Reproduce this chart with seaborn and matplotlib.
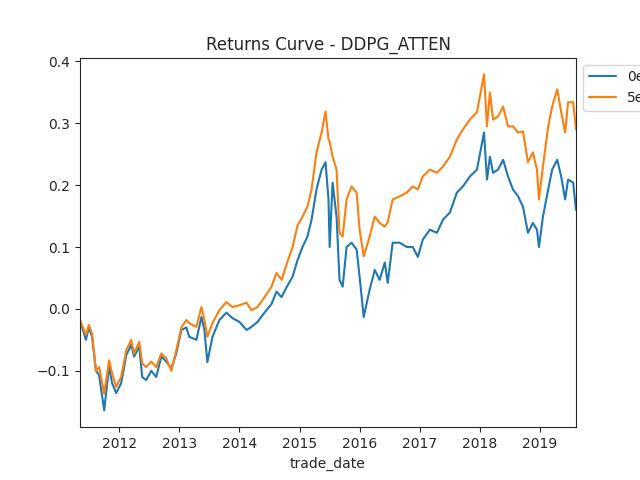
import numpy as np
import pandas as pd
import matplotlib
matplotlib.use("Agg")
import matplotlib.pyplot as plt
import matplotlib.dates as mdates
import seaborn as sns

# values
trade_date = [
    "2011-05-08", "2011-06-13", "2011-07-01", "2011-07-20", "2011-08-13", "2011-09-01",
    "2011-10-02", "2011-11-01", "2011-11-19", "2011-12-14", "2012-01-13", "2012-02-13",
    "2012-03-14", "2012-04-01", "2012-05-02", "2012-05-20", "2012-06-13", "2012-07-14",
    "2012-08-13", "2012-09-13", "2012-10-13", "2012-11-13", "2012-12-13", "2013-01-13",
    "2013-02-12", "2013-03-02", "2013-04-14", "2013-05-15", "2013-06-02", "2013-06-20",
    "2013-07-21", "2013-09-01", "2013-10-14", "2013-11-20", "2014-01-01", "2014-02-13",
    "2014-03-15", "2014-04-21", "2014-06-02", "2014-07-15", "2014-08-14", "2014-09-14",
    "2014-10-14", "2014-11-20", "2014-12-20", "2015-01-19", "2015-02-18", "2015-03-15",
    "2015-04-14", "2015-05-15", "2015-06-08", "2015-06-26", "2015-07-03", "2015-07-21",
    "2015-08-14", "2015-09-01", "2015-09-20", "2015-10-14", "2015-11-13", "2015-12-14",
    "2016-01-01", "2016-01-26", "2016-03-02", "2016-04-02", "2016-05-02", "2016-06-02",
    "2016-06-20", "2016-07-20", "2016-09-01", "2016-10-14", "2016-11-19", "2016-12-20",
    "2017-01-19", "2017-03-03", "2017-04-15", "2017-05-21", "2017-07-03", "2017-08-14",
    "2017-09-20", "2017-11-01", "2017-12-14", "2018-01-26", "2018-02-13", "2018-03-03",
    "2018-03-22", "2018-04-21", "2018-05-22", "2018-06-21", "2018-07-21", "2018-08-21",
    "2018-09-20", "2018-10-20", "2018-11-19", "2018-12-14", "2018-12-26", "2019-01-19",
    "2019-02-20", "2019-03-16", "2019-04-16", "2019-05-10", "2019-06-03", "2019-06-21",
    "2019-07-22", "2019-08-08",
]

ret_0e = [
    -0.018, -0.050, -0.030, -0.045, -0.100, -0.107,
    -0.164, -0.093, -0.120, -0.136, -0.120, -0.075,
    -0.058, -0.077, -0.061, -0.110, -0.115, -0.100,
    -0.110, -0.077, -0.085, -0.096, -0.072, -0.034,
    -0.030, -0.045, -0.050, -0.013, -0.034, -0.086,
    -0.045, -0.018, -0.006, -0.015, -0.021, -0.034,
    -0.029, -0.021, -0.006, 0.008, 0.028, 0.019,
    0.035, 0.052, 0.079, 0.100, 0.117, 0.144,
    0.193, 0.225, 0.237, 0.177, 0.100, 0.204,
    0.149, 0.047, 0.036, 0.100, 0.107, 0.096,
    0.052, -0.013, 0.031, 0.063, 0.047, 0.075,
    0.042, 0.107, 0.107, 0.100, 0.100, 0.084,
    0.112, 0.128, 0.123, 0.144, 0.156, 0.188,
    0.198, 0.214, 0.225, 0.285, 0.209, 0.246,
    0.220, 0.225, 0.241, 0.214, 0.193, 0.182,
    0.165, 0.123, 0.139, 0.128, 0.100, 0.149,
    0.193, 0.225, 0.241, 0.214, 0.177, 0.209,
    0.204, 0.160,
]

ret_5e = [
    -0.018, -0.042, -0.026, -0.040, -0.100, -0.094,
    -0.137, -0.083, -0.104, -0.126, -0.110, -0.067,
    -0.050, -0.072, -0.053, -0.088, -0.094, -0.085,
    -0.094, -0.072, -0.080, -0.100, -0.067, -0.030,
    -0.018, -0.023, -0.029, 0.003, -0.018, -0.045,
    -0.023, -0.002, 0.011, 0.003, 0.006, 0.010,
    -0.002, 0.003, 0.019, 0.036, 0.058, 0.047,
    0.072, 0.100, 0.135, 0.149, 0.165, 0.193,
    0.253, 0.285, 0.319, 0.274, 0.270, 0.246,
    0.225, 0.123, 0.117, 0.177, 0.198, 0.188,
    0.128, 0.085, 0.117, 0.149, 0.139, 0.133,
    0.140, 0.177, 0.182, 0.188, 0.198, 0.193,
    0.214, 0.225, 0.220, 0.230, 0.246, 0.274,
    0.290, 0.306, 0.318, 0.379, 0.295, 0.350,
    0.306, 0.311, 0.327, 0.295, 0.295, 0.285,
    0.287, 0.237, 0.253, 0.225, 0.177, 0.230,
    0.295, 0.327, 0.355, 0.318, 0.285, 0.334,
    0.334, 0.290,
]

series_names = ["0epoch", "5epoch"]

dates = pd.to_datetime(trade_date)
df = pd.DataFrame({
    "trade_date": np.concatenate([dates, dates]),
    "ret": ret_0e + ret_5e,
    "model": [series_names[0]] * len(dates) + [series_names[1]] * len(dates),
})

sns.set_style("ticks")
plt.rcParams["font.family"] = ["DejaVu Sans"]

fig, ax = plt.subplots(figsize=(6.4, 4.8), dpi=100)
sns.lineplot(data=df, x="trade_date", y="ret", hue="model",
             palette=["#1f77b4", "#ff7f0e"], linewidth=1.5, ax=ax)

ax.set_xlim(dates.min(), dates.max())
ax.xaxis.set_major_locator(mdates.YearLocator())
ax.xaxis.set_major_formatter(mdates.DateFormatter("%Y"))
ax.set_title("Returns Curve - DDPG_ATTEN")
ax.set_xlabel("trade_date")
ax.set_ylabel("")
for s in ax.spines.values():
    s.set_visible(True)

ax.legend(loc="upper left", bbox_to_anchor=(1, 1), title=None)

fig.savefig("out.png", dpi=100)
